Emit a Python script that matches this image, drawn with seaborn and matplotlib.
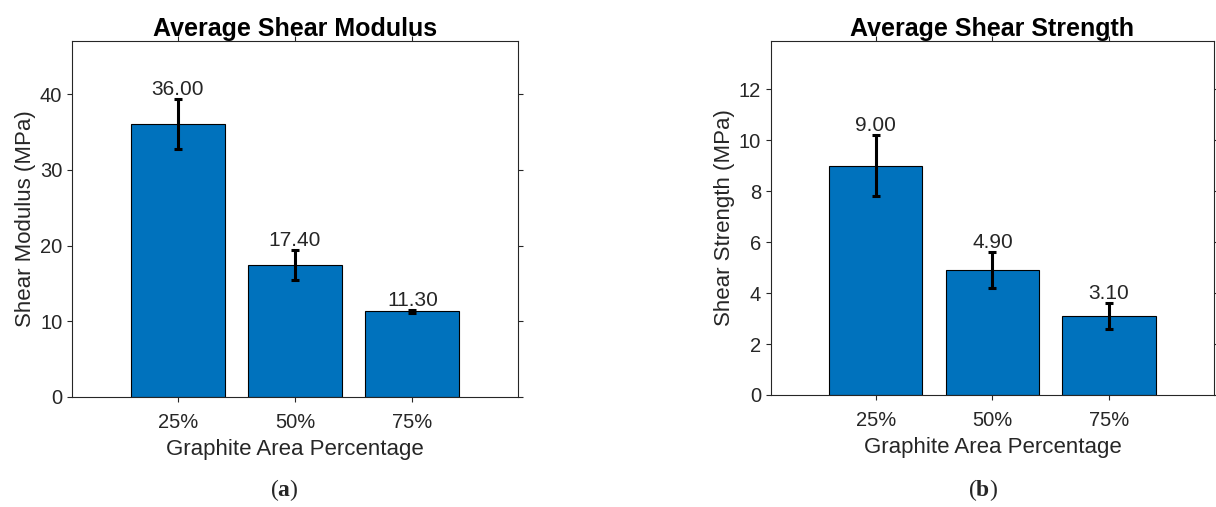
#!/usr/bin/env python3

import pandas as pd
import matplotlib.pyplot as plt
import seaborn as sns

# data
categories = ["25%", "50%", "75%"]
modulus_mean = [36.00, 17.40, 11.30]
modulus_err = [3.3, 2.0, 0.2]
strength_mean = [9.00, 4.90, 3.10]
strength_err = [1.2, 0.7, 0.5]

BAR_COLOR = "#0072BD"
TEXT_COLOR = "#262626"

sns.set_style("white")
plt.rcParams["font.family"] = ["Liberation Sans", "DejaVu Sans"]
plt.rcParams["mathtext.fontset"] = "custom"
plt.rcParams["mathtext.rm"] = "Liberation Serif"
plt.rcParams["mathtext.bf"] = "Liberation Serif:bold"


def draw_panel(ax, means, errs, title, ylabel, ymax, yticks):
    df = pd.DataFrame({"area": categories, "value": means, "err": errs})
    sns.barplot(data=df, x="area", y="value", color=BAR_COLOR, width=0.8,
                edgecolor="black", linewidth=0.8, saturation=1, errorbar=None, ax=ax)
    ax.errorbar(range(len(df)), df["value"], yerr=df["err"], fmt="none",
                ecolor="black", elinewidth=2.2, capsize=3, capthick=2.2, zorder=5)
    for i, (v, e) in enumerate(zip(df["value"], df["err"])):
        ax.text(i, v + e, f"{v:.2f}", ha="center", va="bottom", fontsize=15, color=TEXT_COLOR)

    ax.set_xlim(-0.9, 2.9)
    ax.set_ylim(0, ymax)
    ax.set_yticks(yticks)
    ax.set_title(title, fontsize=18, fontweight="bold", color="black", pad=4)
    ax.set_xlabel("Graphite Area Percentage", fontsize=16, color=TEXT_COLOR, labelpad=5)
    ax.set_ylabel(ylabel, fontsize=16, color=TEXT_COLOR, labelpad=3)
    ax.tick_params(direction="out", length=3.5, width=0.8, colors=TEXT_COLOR,
                   labelsize=14.5, top=True, right=True, left=True, bottom=True)
    ax.tick_params(axis="x", pad=8)
    for s in ax.spines.values():
        s.set_visible(True)
        s.set_color(TEXT_COLOR)
        s.set_linewidth(0.8)


fig = plt.figure(figsize=(12.16, 5.07), dpi=100)
ax1 = fig.add_axes([0.0592, 0.217, 0.3668, 0.702])
ax2 = fig.add_axes([0.634, 0.221, 0.3643, 0.698])

draw_panel(ax1, modulus_mean, modulus_err, "Average Shear Modulus",
           "Shear Modulus (MPa)", 47.0, [0, 10, 20, 30, 40])
draw_panel(ax2, strength_mean, strength_err, "Average Shear Strength",
           "Shear Strength (MPa)", 13.9, [0, 2, 4, 6, 8, 10, 12])

fig.text(284 / 1216, 1 - 490 / 507, r"($\mathbf{a}$)", ha="center", va="center", fontsize=17,
         family=["Liberation Serif", "DejaVu Serif"])
fig.text(983 / 1216, 1 - 490 / 507, r"($\mathbf{b}$)", ha="center", va="center", fontsize=17,
         family=["Liberation Serif", "DejaVu Serif"])

fig.savefig("out.png", dpi=100)
plt.close(fig)
